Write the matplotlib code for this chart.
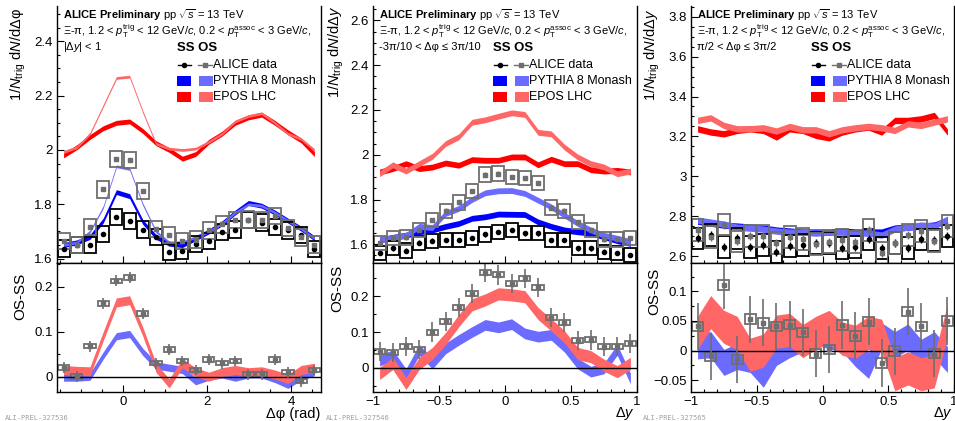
#!/usr/bin/env python3
"""Xi-pi correlations, ALICE preliminary vs PYTHIA / EPOS, three panels with OS-SS ratios."""

import numpy as np
import matplotlib

matplotlib.use("Agg")
import matplotlib.pyplot as plt  # noqa: E402
from matplotlib.lines import Line2D  # noqa: E402
from matplotlib.patches import Rectangle  # noqa: E402
from matplotlib.ticker import FuncFormatter, MultipleLocator  # noqa: E402

plt.rcParams["font.family"] = ["Liberation Sans", "DejaVu Sans"]
plt.rcParams["mathtext.fontset"] = "custom"
plt.rcParams["mathtext.rm"] = "Liberation Sans"
plt.rcParams["mathtext.it"] = "Liberation Sans:italic"
plt.rcParams["mathtext.bf"] = "Liberation Sans:bold"

# ---- panel 1: dphi projection, |dy| < 1 ----
dphi_edges = np.linspace(-np.pi / 2, 3 * np.pi / 2, 21)
ss1 = [1.637, 1.649, 1.649, 1.692, 1.753, 1.739, 1.707, 1.680, 1.625, 1.628,
       1.655, 1.665, 1.698, 1.707, 1.741, 1.733, 1.717, 1.704, 1.688, 1.636]
os1 = [1.665, 1.650, 1.717, 1.855, 1.966, 1.962, 1.848, 1.710, 1.686, 1.665,
       1.670, 1.704, 1.726, 1.741, 1.744, 1.742, 1.757, 1.713, 1.678, 1.652]
diff1 = [0.020, 0.000, 0.068, 0.163, 0.213, 0.220, 0.140, 0.030, 0.060, 0.035,
         0.015, 0.038, 0.030, 0.035, 0.005, 0.005, 0.038, 0.010, -0.010, 0.015]
py_ss1 = [1.650, 1.660, 1.680, 1.740, 1.845, 1.830, 1.735, 1.680, 1.655, 1.650,
          1.675, 1.700, 1.730, 1.770, 1.805, 1.795, 1.770, 1.740, 1.710, 1.675]
py_os1 = [1.650, 1.660, 1.700, 1.790, 1.940, 1.930, 1.800, 1.700, 1.660, 1.660,
          1.680, 1.700, 1.730, 1.770, 1.800, 1.795, 1.770, 1.740, 1.710, 1.675]
ep_ss1 = [1.980, 2.010, 2.048, 2.080, 2.100, 2.105, 2.070, 2.025, 2.000, 1.968,
          1.985, 2.030, 2.060, 2.100, 2.120, 2.130, 2.100, 2.065, 2.035, 1.985]
ep_os1 = [1.993, 2.010, 2.060, 2.163, 2.265, 2.270, 2.140, 2.023, 2.005, 2.000,
          2.005, 2.030, 2.060, 2.105, 2.125, 2.135, 2.100, 2.060, 2.040, 2.000]
py_d1 = [-0.002, -0.002, 0.000, 0.047, 0.090, 0.095, 0.055, 0.025, 0.020, 0.015,
         -0.010, 0.000, 0.005, -0.002, 0.005, 0.005, -0.005, -0.018, 0.000, 0.010]
ep_d1 = [0.015, 0.013, 0.012, 0.090, 0.165, 0.170, 0.100, 0.020, -0.015, 0.030,
         0.010, 0.000, 0.010, 0.015, 0.010, 0.012, 0.005, -0.005, 0.015, 0.020]

# ---- panel 2: dy projection, near side ----
dy_edges = np.linspace(-1.0, 1.0, 21)
ss2 = [1.560, 1.582, 1.572, 1.607, 1.616, 1.619, 1.619, 1.627, 1.644, 1.656,
       1.664, 1.649, 1.649, 1.619, 1.619, 1.582, 1.582, 1.567, 1.560, 1.553]
os2 = [1.607, 1.627, 1.631, 1.664, 1.708, 1.750, 1.787, 1.837, 1.911, 1.916,
       1.900, 1.896, 1.874, 1.764, 1.750, 1.700, 1.664, 1.622, 1.622, 1.627]
diff2 = [0.045, 0.042, 0.060, 0.052, 0.100, 0.130, 0.169, 0.207, 0.266, 0.260,
         0.235, 0.250, 0.225, 0.140, 0.126, 0.076, 0.078, 0.059, 0.060, 0.068]
py_ss2 = [1.620, 1.631, 1.641, 1.656, 1.664, 1.680, 1.693, 1.716, 1.723, 1.735,
          1.734, 1.733, 1.700, 1.680, 1.664, 1.656, 1.650, 1.634, 1.616, 1.604]
py_os2 = [1.620, 1.630, 1.640, 1.680, 1.675, 1.738, 1.760, 1.800, 1.830, 1.839,
          1.840, 1.827, 1.797, 1.767, 1.730, 1.693, 1.664, 1.640, 1.627, 1.612]
ep_ss2 = [1.923, 1.938, 1.960, 1.938, 1.945, 1.963, 1.953, 1.978, 1.975, 1.975,
          1.990, 1.990, 1.955, 1.980, 1.960, 1.960, 1.933, 1.927, 1.930, 1.923]
ep_os2 = [1.915, 1.955, 1.927, 1.960, 1.993, 2.050, 2.080, 2.145, 2.156, 2.172,
          2.187, 2.180, 2.100, 2.093, 2.034, 1.990, 1.960, 1.945, 1.915, 1.927]
py_d2 = [0.020, 0.035, -0.018, 0.050, 0.012, 0.054, 0.078, 0.100, 0.120, 0.113,
         0.122, 0.096, 0.087, 0.092, 0.059, 0.012, -0.011, -0.002, 0.050, -0.030]
ep_d2 = [-0.016, 0.012, -0.044, 0.012, 0.040, 0.082, 0.132, 0.176, 0.190, 0.207,
         0.204, 0.199, 0.152, 0.120, 0.087, 0.040, 0.031, 0.007, -0.011, 0.012]

# ---- panel 3: dy projection, away side ----
ss3 = [2.688, 2.705, 2.647, 2.688, 2.647, 2.655, 2.622, 2.650, 2.655, 2.667,
       2.667, 2.638, 2.643, 2.683, 2.638, 2.667, 2.638, 2.683, 2.680, 2.700]
os3 = [2.729, 2.695, 2.758, 2.673, 2.700, 2.702, 2.663, 2.694, 2.686, 2.662,
       2.669, 2.681, 2.668, 2.732, 2.617, 2.666, 2.704, 2.724, 2.675, 2.750]
diff3 = [0.041, -0.010, 0.111, -0.015, 0.053, 0.047, 0.041, 0.044, 0.031, -0.005,
         0.002, 0.043, 0.025, 0.049, -0.021, -0.001, 0.066, 0.041, -0.005, 0.050]
py_ss3 = [2.775, 2.765, 2.755, 2.750, 2.745, 2.740, 2.730, 2.725, 2.720, 2.720,
          2.720, 2.725, 2.720, 2.720, 2.720, 2.740, 2.745, 2.750, 2.755, 2.780]
py_os3 = [2.780, 2.770, 2.760, 2.745, 2.740, 2.735, 2.725, 2.720, 2.720, 2.715,
          2.720, 2.720, 2.715, 2.715, 2.705, 2.735, 2.745, 2.755, 2.750, 2.785]
ep_ss3 = [3.238, 3.222, 3.213, 3.230, 3.238, 3.230, 3.197, 3.238, 3.230, 3.205,
          3.193, 3.222, 3.238, 3.247, 3.222, 3.280, 3.280, 3.288, 3.305, 3.222]
ep_os3 = [3.280, 3.293, 3.255, 3.238, 3.238, 3.243, 3.227, 3.250, 3.233, 3.233,
          3.213, 3.233, 3.243, 3.250, 3.243, 3.230, 3.263, 3.255, 3.272, 3.288]
py_d3 = [0.008, 0.010, -0.020, -0.010, -0.015, -0.040, -0.003, 0.010, 0.020, 0.032,
         0.025, 0.020, -0.005, -0.025, 0.025, 0.010, 0.023, -0.003, 0.010, -0.015]
ep_d3 = [0.030, 0.065, 0.040, 0.030, -0.007, 0.000, 0.032, 0.035, 0.016, 0.030,
         0.040, 0.020, 0.015, 0.030, 0.025, -0.040, -0.030, -0.040, -0.035, 0.050]

BLUE, LBLUE = "#0000ff", "#6b6bff"
RED, LRED = "#ff0000", "#ff6666"
GRAY = "#6e6e6e"
W, H = 955, 421

PANELS = [
    dict(edges=dphi_edges, ss=ss1, os=os1, diff=diff1, py_ss=py_ss1, py_os=py_os1,
         ep_ss=ep_ss1, ep_os=ep_os1, py_d=py_d1, ep_d=ep_d1,
         left=57, width=264, ylim=(1.584, 2.530), dylim=(-0.034, 0.2527),
         ymaj=0.2, ymin=0.05, dmaj=0.1, dmin=0.05, xmaj=2, xmin=0.5,
         band=(0.009, 0.005, 0.009, 0.005), dband=(0.008, 0.01),
         syst=0.03, stat=0.005, dsyst=0.005, dstat=0.012,
         cut=r"|Δ$y$| < 1", ylabel=r"1/$N_{\rm trig}$ d$N$/dΔφ",
         ylab_xy=(18, 55), dlab_xy=(20, 296),
         xlabel="Δφ (rad)", xlab_right=320, tag="ALI-PREL-327536", tag_x=5),
    dict(edges=dy_edges, ss=ss2, os=os2, diff=diff2, py_ss=py_ss2, py_os=py_os2,
         ep_ss=ep_ss2, ep_os=ep_os2, py_d=py_d2, ep_d=ep_d2,
         left=373, width=264, ylim=(1.5165, 2.664), dylim=(-0.068, 0.2933),
         ymaj=0.2, ymin=0.05, dmaj=0.1, dmin=0.05, xmaj=0.5, xmin=0.1,
         band=(0.013, 0.013, 0.013, 0.013), dband=(0.015, 0.017),
         syst=0.032, stat=0.01, dsyst=0.007, dstat=0.027,
         cut="-3π/10 < Δφ ≤ 3π/10", ylabel=r"1/$N_{\rm trig}$ d$N$/dΔ$y$",
         ylab_xy=(336, 52), dlab_xy=(337, 288),
         xlabel=r"Δ$y$", xlab_right=635, tag="ALI-PREL-327546", tag_x=326),
    dict(edges=dy_edges, ss=ss3, os=os3, diff=diff3, py_ss=py_ss3, py_os=py_os3,
         ep_ss=ep_ss3, ep_os=ep_os3, py_d=py_d3, ep_d=ep_d3,
         left=691, width=263, ylim=(2.565, 3.854), dylim=(-0.070, 0.148),
         ymaj=0.2, ymin=0.05, dmaj=0.05, dmin=0.025, xmaj=0.5, xmin=0.1,
         band=(0.016, 0.016, 0.016, 0.016), dband=(0.022, 0.028),
         syst=0.055, stat=0.02, dsyst=0.008, dstat=0.04,
         cut="π/2 < Δφ ≤ 3π/2", ylabel=r"1/$N_{\rm trig}$ d$N$/dΔ$y$",
         ylab_xy=(652, 55), dlab_xy=(654, 291),
         xlabel=r"Δ$y$", xlab_right=953, tag="ALI-PREL-327565", tag_x=643),
]

TOP_Y, TOP_H, BOT_H = 6, 257, 129
fmt = FuncFormatter(lambda v, _: f"{v:g}".replace("-", "\u2212"))


def style_axes(ax, p, ymaj, ymin):
    ax.xaxis.set_major_locator(MultipleLocator(p["xmaj"]))
    ax.xaxis.set_minor_locator(MultipleLocator(p["xmin"]))
    ax.yaxis.set_major_locator(MultipleLocator(ymaj))
    ax.yaxis.set_minor_locator(MultipleLocator(ymin))
    ax.xaxis.set_major_formatter(fmt)
    ax.yaxis.set_major_formatter(fmt)
    ax.tick_params(which="both", direction="in", top=False, right=False,
                   labelsize=9.5, pad=3, width=0.8)
    ax.tick_params(which="major", length=5)
    ax.tick_params(which="minor", length=2.5)
    for s in ax.spines.values():
        s.set_linewidth(1.0)


def draw_legend(ax, wpx, hpx):
    def xy(dx, dy):
        return dx / wpx, 1 - dy / hpx

    tr = ax.transAxes
    ax.text(*xy(120, 42), "SS OS", fontweight="bold", fontsize=9.5,
            va="center", ha="left", transform=tr)
    # data row
    _, yy = xy(0, 59)
    ax.add_line(Line2D([121 / wpx, 134 / wpx], [yy, yy], color="k", lw=1, transform=tr))
    ax.add_line(Line2D([127 / wpx], [yy], marker="o", ms=3, color="k", transform=tr))
    ax.add_line(Line2D([141 / wpx, 155 / wpx], [yy, yy], color=GRAY, lw=1, transform=tr))
    ax.add_line(Line2D([148 / wpx], [yy], marker="s", ms=3, color=GRAY, transform=tr))
    ax.text(156 / wpx, yy, "ALICE data", fontsize=9, va="center", ha="left", transform=tr)
    rows = [(75, BLUE, LBLUE, "PYTHIA 8 Monash"), (91, RED, LRED, "EPOS LHC")]
    for dy, c1, c2, label in rows:
        x0, y0 = xy(120, dy + 5)
        ax.add_patch(Rectangle((x0, y0), 14 / wpx, 10 / hpx, color=c1, transform=tr, lw=0))
        x0, y0 = xy(142, dy + 5)
        ax.add_patch(Rectangle((x0, y0), 14 / wpx, 10 / hpx, color=c2, transform=tr, lw=0))
        ax.text(156 / wpx, 1 - dy / hpx, label, fontsize=9, va="center", ha="left", transform=tr)


fig = plt.figure(figsize=(W / 100, H / 100), dpi=100)

for p in PANELS:
    left, width = p["left"], p["width"]
    ax = fig.add_axes([left / W, 1 - (TOP_Y + TOP_H) / H, width / W, TOP_H / H])
    axr = fig.add_axes([left / W, 1 - (TOP_Y + TOP_H + BOT_H) / H, width / W, BOT_H / H])
    edges = p["edges"]
    x = 0.5 * (edges[:-1] + edges[1:])
    bw = edges[1] - edges[0]

    # model bands, top
    for key, c, hw in zip(("py_ss", "py_os", "ep_ss", "ep_os"),
                          (BLUE, LBLUE, RED, LRED), p["band"]):
        y = np.asarray(p[key])
        ax.fill_between(x, y - hw, y + hw, color=c, lw=0)

    # data with systematic boxes, top
    for vals, c in ((p["ss"], "k"), (p["os"], GRAY)):
        for xi, yi in zip(x, vals):
            ax.add_patch(Rectangle((xi - 0.45 * bw, yi - p["syst"]), 0.9 * bw, 2 * p["syst"],
                                   fill=False, ec=c, lw=1.3))
    ax.errorbar(x, p["ss"], yerr=p["stat"], fmt="o", ms=3, color="k", lw=1, capsize=0)
    ax.errorbar(x, p["os"], yerr=p["stat"], fmt="s", ms=3, color=GRAY, lw=1, capsize=0)

    ax.set_xlim(edges[0], edges[-1])
    ax.set_ylim(*p["ylim"])
    style_axes(ax, p, p["ymaj"], p["ymin"])
    ax.tick_params(labelbottom=False)
    ax.spines["top"].set_visible(False)

    wpx = width
    ax.text(6 / wpx, 1 - 9 / TOP_H, r"$\bf{ALICE\ Preliminary}$ pp $\sqrt{s}$ = 13 TeV",
            fontsize=8, va="center", ha="left", transform=ax.transAxes)
    ax.text(6 / wpx, 1 - 25 / TOP_H,
            r"Ξ-π, 1.2 < $p_{\rm T}^{\rm trig}$ < 12 GeV/$c$, 0.2 < $p_{\rm T}^{\rm assoc}$ < 3 GeV/$c$,",
            fontsize=8, va="center", ha="left", transform=ax.transAxes)
    ax.text(6 / wpx, 1 - 41 / TOP_H, p["cut"], fontsize=8, va="center", ha="left",
            transform=ax.transAxes)
    draw_legend(ax, wpx, TOP_H)

    # OS-SS panel
    for key, c, hw in zip(("py_d", "ep_d"), (LBLUE, LRED), p["dband"]):
        y = np.asarray(p[key])
        axr.fill_between(x, y - hw, y + hw, color=c, lw=0)
    axr.axhline(0, color="k", lw=1)
    for xi, yi in zip(x, p["diff"]):
        axr.add_patch(Rectangle((xi - 0.42 * bw, yi - p["dsyst"]), 0.84 * bw, 2 * p["dsyst"],
                                fill=False, ec=GRAY, lw=1.3))
    axr.errorbar(x, p["diff"], yerr=p["dstat"], fmt="s", ms=3, color=GRAY, lw=1.2, capsize=0)
    axr.set_xlim(edges[0], edges[-1])
    axr.set_ylim(*p["dylim"])
    style_axes(axr, p, p["dmaj"], p["dmin"])

    fig.text(p["ylab_xy"][0] / W, 1 - p["ylab_xy"][1] / H, p["ylabel"], rotation=90,
             ha="center", va="center", fontsize=10.5)
    fig.text(p["dlab_xy"][0] / W, 1 - p["dlab_xy"][1] / H, "OS-SS", rotation=90,
             ha="center", va="center", fontsize=11)
    fig.text(p["xlab_right"] / W, 1 - 414 / H, p["xlabel"], ha="right", va="center",
             fontsize=10.5)
    fig.text(p["tag_x"] / W, 1 - 418 / H, p["tag"], ha="left", va="center",
             fontsize=5, color="#a0a0a0", family="DejaVu Sans Mono")

fig.savefig("out.png", dpi=100)
